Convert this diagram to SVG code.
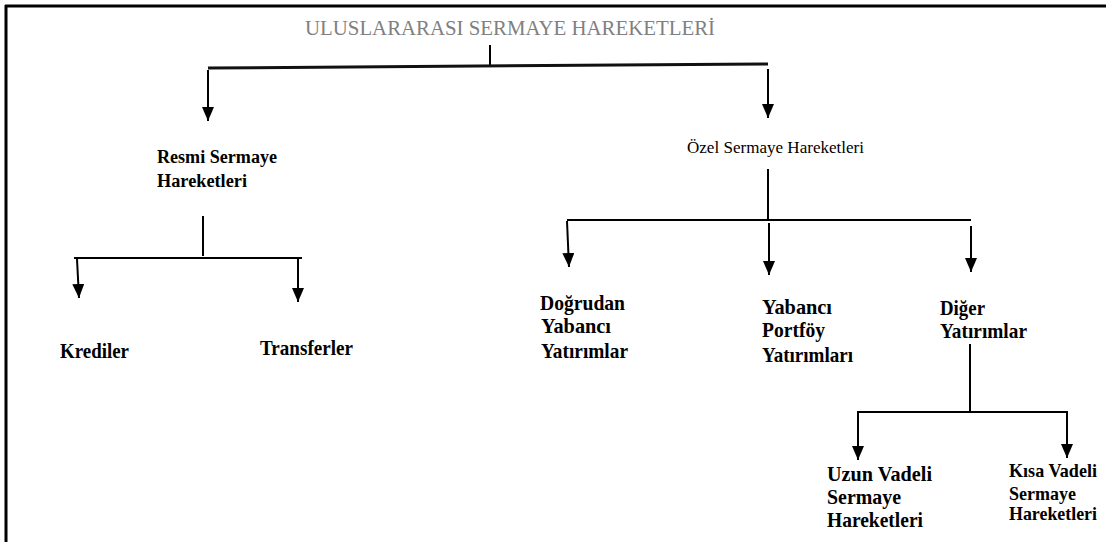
<svg xmlns="http://www.w3.org/2000/svg" width="1106" height="542" viewBox="0 0 1106 542">
<style>
.t{font-family:"Liberation Serif","Times New Roman",serif;fill:#000;}
.b{font-weight:bold;font-size:22px;}
.s{font-weight:bold;font-size:19px;}
.ln{stroke:#000;stroke-width:2;fill:none;}
</style>
<defs>
<marker id="ah" markerUnits="userSpaceOnUse" markerWidth="14" markerHeight="12" refX="14" refY="6" orient="auto">
<path d="M0,0 L14,6 L0,12 z" fill="#000"/>
</marker>
</defs>
<rect x="0" y="0" width="1106" height="542" fill="#fff"/>
<g id="frame">
<line x1="5" y1="6" x2="1106" y2="6" stroke="#000" stroke-width="3"/>
<line x1="6" y1="5" x2="6" y2="542" stroke="#000" stroke-width="3"/>
</g>
<g id="connectors">
<line class="ln" x1="490" y1="45" x2="490" y2="67"/>
<line x1="208" y1="68" x2="768" y2="64" stroke="#111" stroke-width="3"/>
<line class="ln" x1="208" y1="70" x2="208" y2="121" marker-end="url(#ah)"/>
<line class="ln" x1="768" y1="69" x2="768" y2="118" marker-end="url(#ah)"/>
<line class="ln" x1="203" y1="216" x2="203" y2="256"/>
<line class="ln" x1="74" y1="258" x2="302" y2="258"/>
<line class="ln" x1="77" y1="259" x2="79" y2="298" marker-end="url(#ah)"/>
<line class="ln" x1="298" y1="259" x2="298" y2="302" marker-end="url(#ah)"/>
<line class="ln" x1="768" y1="169" x2="768" y2="219"/>
<line class="ln" x1="567" y1="220" x2="971" y2="220"/>
<line class="ln" x1="567" y1="221" x2="569" y2="267" marker-end="url(#ah)"/>
<line class="ln" x1="769" y1="223" x2="769" y2="275" marker-end="url(#ah)"/>
<line class="ln" x1="971" y1="226" x2="971" y2="272" marker-end="url(#ah)"/>
<line class="ln" x1="970" y1="344" x2="970" y2="412"/>
<line class="ln" x1="857" y1="412" x2="1068" y2="412"/>
<line class="ln" x1="858" y1="412" x2="858" y2="460" marker-end="url(#ah)"/>
<line class="ln" x1="1067" y1="412" x2="1067" y2="458" marker-end="url(#ah)"/>
</g>
<g id="root">
<text class="t" x="305" y="35" font-size="21" style="fill:#808080" textLength="410" lengthAdjust="spacingAndGlyphs">ULUSLARARASI SERMAYE HAREKETLERİ</text>
</g>
<g id="resmi">
<text class="t" font-weight="bold" font-size="18" x="157" y="163" textLength="120" lengthAdjust="spacingAndGlyphs">Resmi Sermaye</text>
<text class="t" font-weight="bold" font-size="18" x="157" y="187" textLength="90" lengthAdjust="spacingAndGlyphs">Hareketleri</text>
</g>
<g id="ozel">
<text class="t" font-size="17" x="687" y="153" textLength="177" lengthAdjust="spacingAndGlyphs">Özel Sermaye Hareketleri</text>
</g>
<g id="krediler">
<text class="t b" x="60" y="358" textLength="69" lengthAdjust="spacingAndGlyphs">Krediler</text>
</g>
<g id="transferler">
<text class="t b" x="260" y="355" textLength="93" lengthAdjust="spacingAndGlyphs">Transferler</text>
</g>
<g id="dogrudan">
<text class="t b" x="540" y="310" textLength="85" lengthAdjust="spacingAndGlyphs">Doğrudan</text>
<text class="t b" x="541" y="333" textLength="70" lengthAdjust="spacingAndGlyphs">Yabancı</text>
<text class="t b" x="541" y="358" textLength="87" lengthAdjust="spacingAndGlyphs">Yatırımlar</text>
</g>
<g id="portfoy">
<text class="t b" x="762" y="314" textLength="70" lengthAdjust="spacingAndGlyphs">Yabancı</text>
<text class="t b" x="762" y="337" textLength="63" lengthAdjust="spacingAndGlyphs">Portföy</text>
<text class="t b" x="762" y="362" textLength="91" lengthAdjust="spacingAndGlyphs">Yatırımları</text>
</g>
<g id="diger">
<text class="t b" x="940" y="315" textLength="45" lengthAdjust="spacingAndGlyphs">Diğer</text>
<text class="t b" x="940" y="338" textLength="87" lengthAdjust="spacingAndGlyphs">Yatırımlar</text>
</g>
<g id="uzun">
<text class="t b" x="827" y="481" textLength="105" lengthAdjust="spacingAndGlyphs">Uzun Vadeli</text>
<text class="t b" x="827" y="504" textLength="74" lengthAdjust="spacingAndGlyphs">Sermaye</text>
<text class="t b" x="827" y="527" textLength="96" lengthAdjust="spacingAndGlyphs">Hareketleri</text>
</g>
<g id="kisa">
<text class="t s" x="1009" y="477" textLength="88" lengthAdjust="spacingAndGlyphs">Kısa Vadeli</text>
<text class="t s" x="1009" y="500" textLength="67" lengthAdjust="spacingAndGlyphs">Sermaye</text>
<text class="t s" x="1009" y="520" textLength="88" lengthAdjust="spacingAndGlyphs">Hareketleri</text>
</g>
</svg>
